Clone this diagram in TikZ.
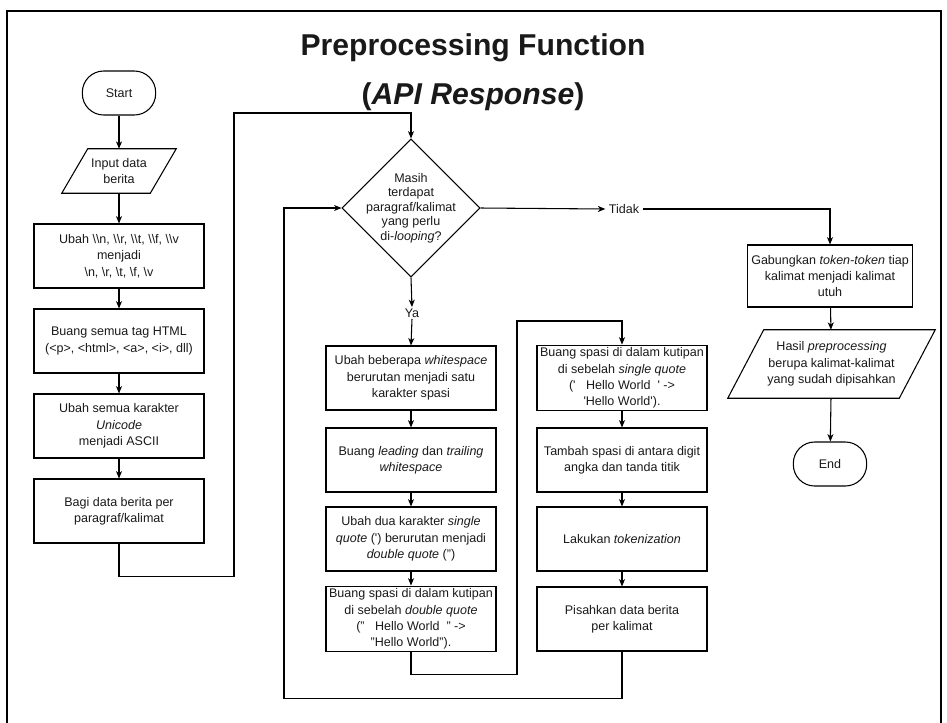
\documentclass[tikz,border=0pt]{standalone}
\usepackage{fontspec}
\setmainfont{Liberation Sans}
\usetikzlibrary{arrows.meta,shapes.geometric,calc}

\begin{document}
\begin{tikzpicture}[x=0.75pt,y=-0.75pt,
  every node/.style={font=\fontsize{9.4}{12.2}\selectfont, text=black!90},
  proc/.style={draw, line width=0.8pt, minimum width=127.5pt, minimum height=48pt,
               align=center, inner sep=2pt},
  term/.style={draw, line width=0.8pt, rounded corners=16pt, minimum width=55pt,
               minimum height=33pt, inner sep=1pt},
  iobox/.style={minimum height=#1, align=center, inner sep=0pt},
  decision/.style={draw, line width=0.8pt, diamond, minimum width=103.5pt,
                   minimum height=103.5pt, inner sep=0pt},
  lbl/.style={inner sep=2.5pt},
  flow/.style={line width=0.8pt, -{Stealth[length=5.5pt,width=4.5pt,inset=1.5pt]}},
  link/.style={line width=0.8pt}
]
\useasboundingbox (0,0) rectangle (947,722);

% outer frame
\draw[line width=2.2pt] (7,740) -- (7,11) -- (941,11) -- (941,740);

% title
\node[font=\fontsize{22.6}{37}\selectfont\bfseries, align=center] (title) at (473,72.5)
  {Preprocessing Function\\(\textit{API Response})};

% left column
\node[term] (start) at (119,93) {Start};
\node[iobox=33pt, minimum width=66pt] (input) at (119,171) {Input data\\berita};
\draw[line width=0.8pt] ([xshift=9.75pt]input.north west) -- ([xshift=9.75pt]input.north east)
  -- ([xshift=-9.75pt]input.south east) -- ([xshift=-9.75pt]input.south west) -- cycle;
\node[proc] (b1) at (119,256) {Ubah \textbackslash\textbackslash n, \textbackslash\textbackslash r, \textbackslash\textbackslash t, \textbackslash\textbackslash f, \textbackslash\textbackslash v\\menjadi\\\textbackslash n, \textbackslash r, \textbackslash t, \textbackslash f, \textbackslash v};
\node[proc] (b2) at (119,341) {Buang semua tag HTML\\(<p>, <html>, <a>, <i>, dll)};
\node[proc] (b3) at (119,426) {Ubah semua karakter\\\textit{Unicode}\\menjadi ASCII};
\node[proc] (b4) at (119,511) {Bagi data berita per\\paragraf/kalimat};

% decision
\node[decision, label={[align=center, font=\fontsize{9.4}{10.9}\selectfont]center:Masih\\terdapat\\paragraf/kalimat\\yang perlu\\di-\textit{looping}?}] (dec) at (411,208) {};
\node[lbl] (tidak) at (624,209) {Tidak};
\node[inner sep=1pt] (ya) at (412,313) {Ya};

% middle columns
\node[proc] (a1) at (411,378) {Ubah beberapa \textit{whitespace}\\berurutan menjadi satu\\karakter spasi};
\node[proc] (a2) at (411,460) {Buang \textit{leading} dan \textit{trailing}\\\textit{whitespace}};
\node[proc] (a3) at (411,539) {Ubah dua karakter \textit{single}\\\textit{quote} (\textquotesingle) berurutan menjadi\\\textit{double quote} (")};
\node[proc] (a4) at (411,619) {Buang spasi di dalam kutipan\\di sebelah \textit{double quote}\\("\ \ \ Hello World\ \ " ->\\"Hello World").};

\node[proc] (e) at (622,378) {Buang spasi di dalam kutipan\\di sebelah \textit{single quote}\\(\textquotesingle\ \ \ Hello World\ \ \textquotesingle\ ->\\\textquotesingle Hello World\textquotesingle).};
\node[proc] (f) at (622,460) {Tambah spasi di antara digit\\angka dan tanda titik};
\node[proc] (g) at (622,539) {Lakukan \textit{tokenization}};
\node[proc] (h) at (622,619) {Pisahkan data berita\\per kalimat};

% right column
\node[proc, minimum width=123.75pt, minimum height=46.5pt] (gab) at (830,276) {Gabungkan \textit{token-token} tiap\\kalimat menjadi kalimat\\utuh};
\node[iobox=51pt, minimum width=128.25pt] (hasil) at (831.5,364) {Hasil \textit{preprocessing}\\berupa kalimat-kalimat\\yang sudah dipisahkan};
\draw[line width=0.8pt] ([xshift=13.5pt]hasil.north west) -- ([xshift=13.5pt]hasil.north east)
  -- ([xshift=-13.5pt]hasil.south east) -- ([xshift=-13.5pt]hasil.south west) -- cycle;
\node[term] (end) at (830,464) {End};

% connectors
\draw[flow] (start) -- (input);
\draw[flow] (input) -- (b1);
\draw[flow] (b1) -- (b2);
\draw[flow] (b2) -- (b3);
\draw[flow] (b3) -- (b4);
\draw[flow] (b4.south) -- ++(0,33) -| (234,113) -| (dec.north);

\draw[flow] (dec.east) -- (tidak.west);
\draw[flow] (tidak.east) -| (gab.north);
\draw[flow] (dec.south) -- (ya.north);
\draw[flow] (ya.south) -- (a1.north);

\draw[flow] (a1) -- (a2);
\draw[flow] (a2) -- (a3);
\draw[flow] (a3) -- (a4);
\draw[flow] (a4.south) -- ++(0,22) -| (517,321) -| (e.north);

\draw[flow] (e) -- (f);
\draw[flow] (f) -- (g);
\draw[flow] (g) -- (h);
\draw[flow] (h.south) -- ++(0,47) -| (284,208) -- (dec.west);

\draw[flow] (gab) -- (hasil);
\draw[flow] (hasil) -- (end);
\end{tikzpicture}
\end{document}
